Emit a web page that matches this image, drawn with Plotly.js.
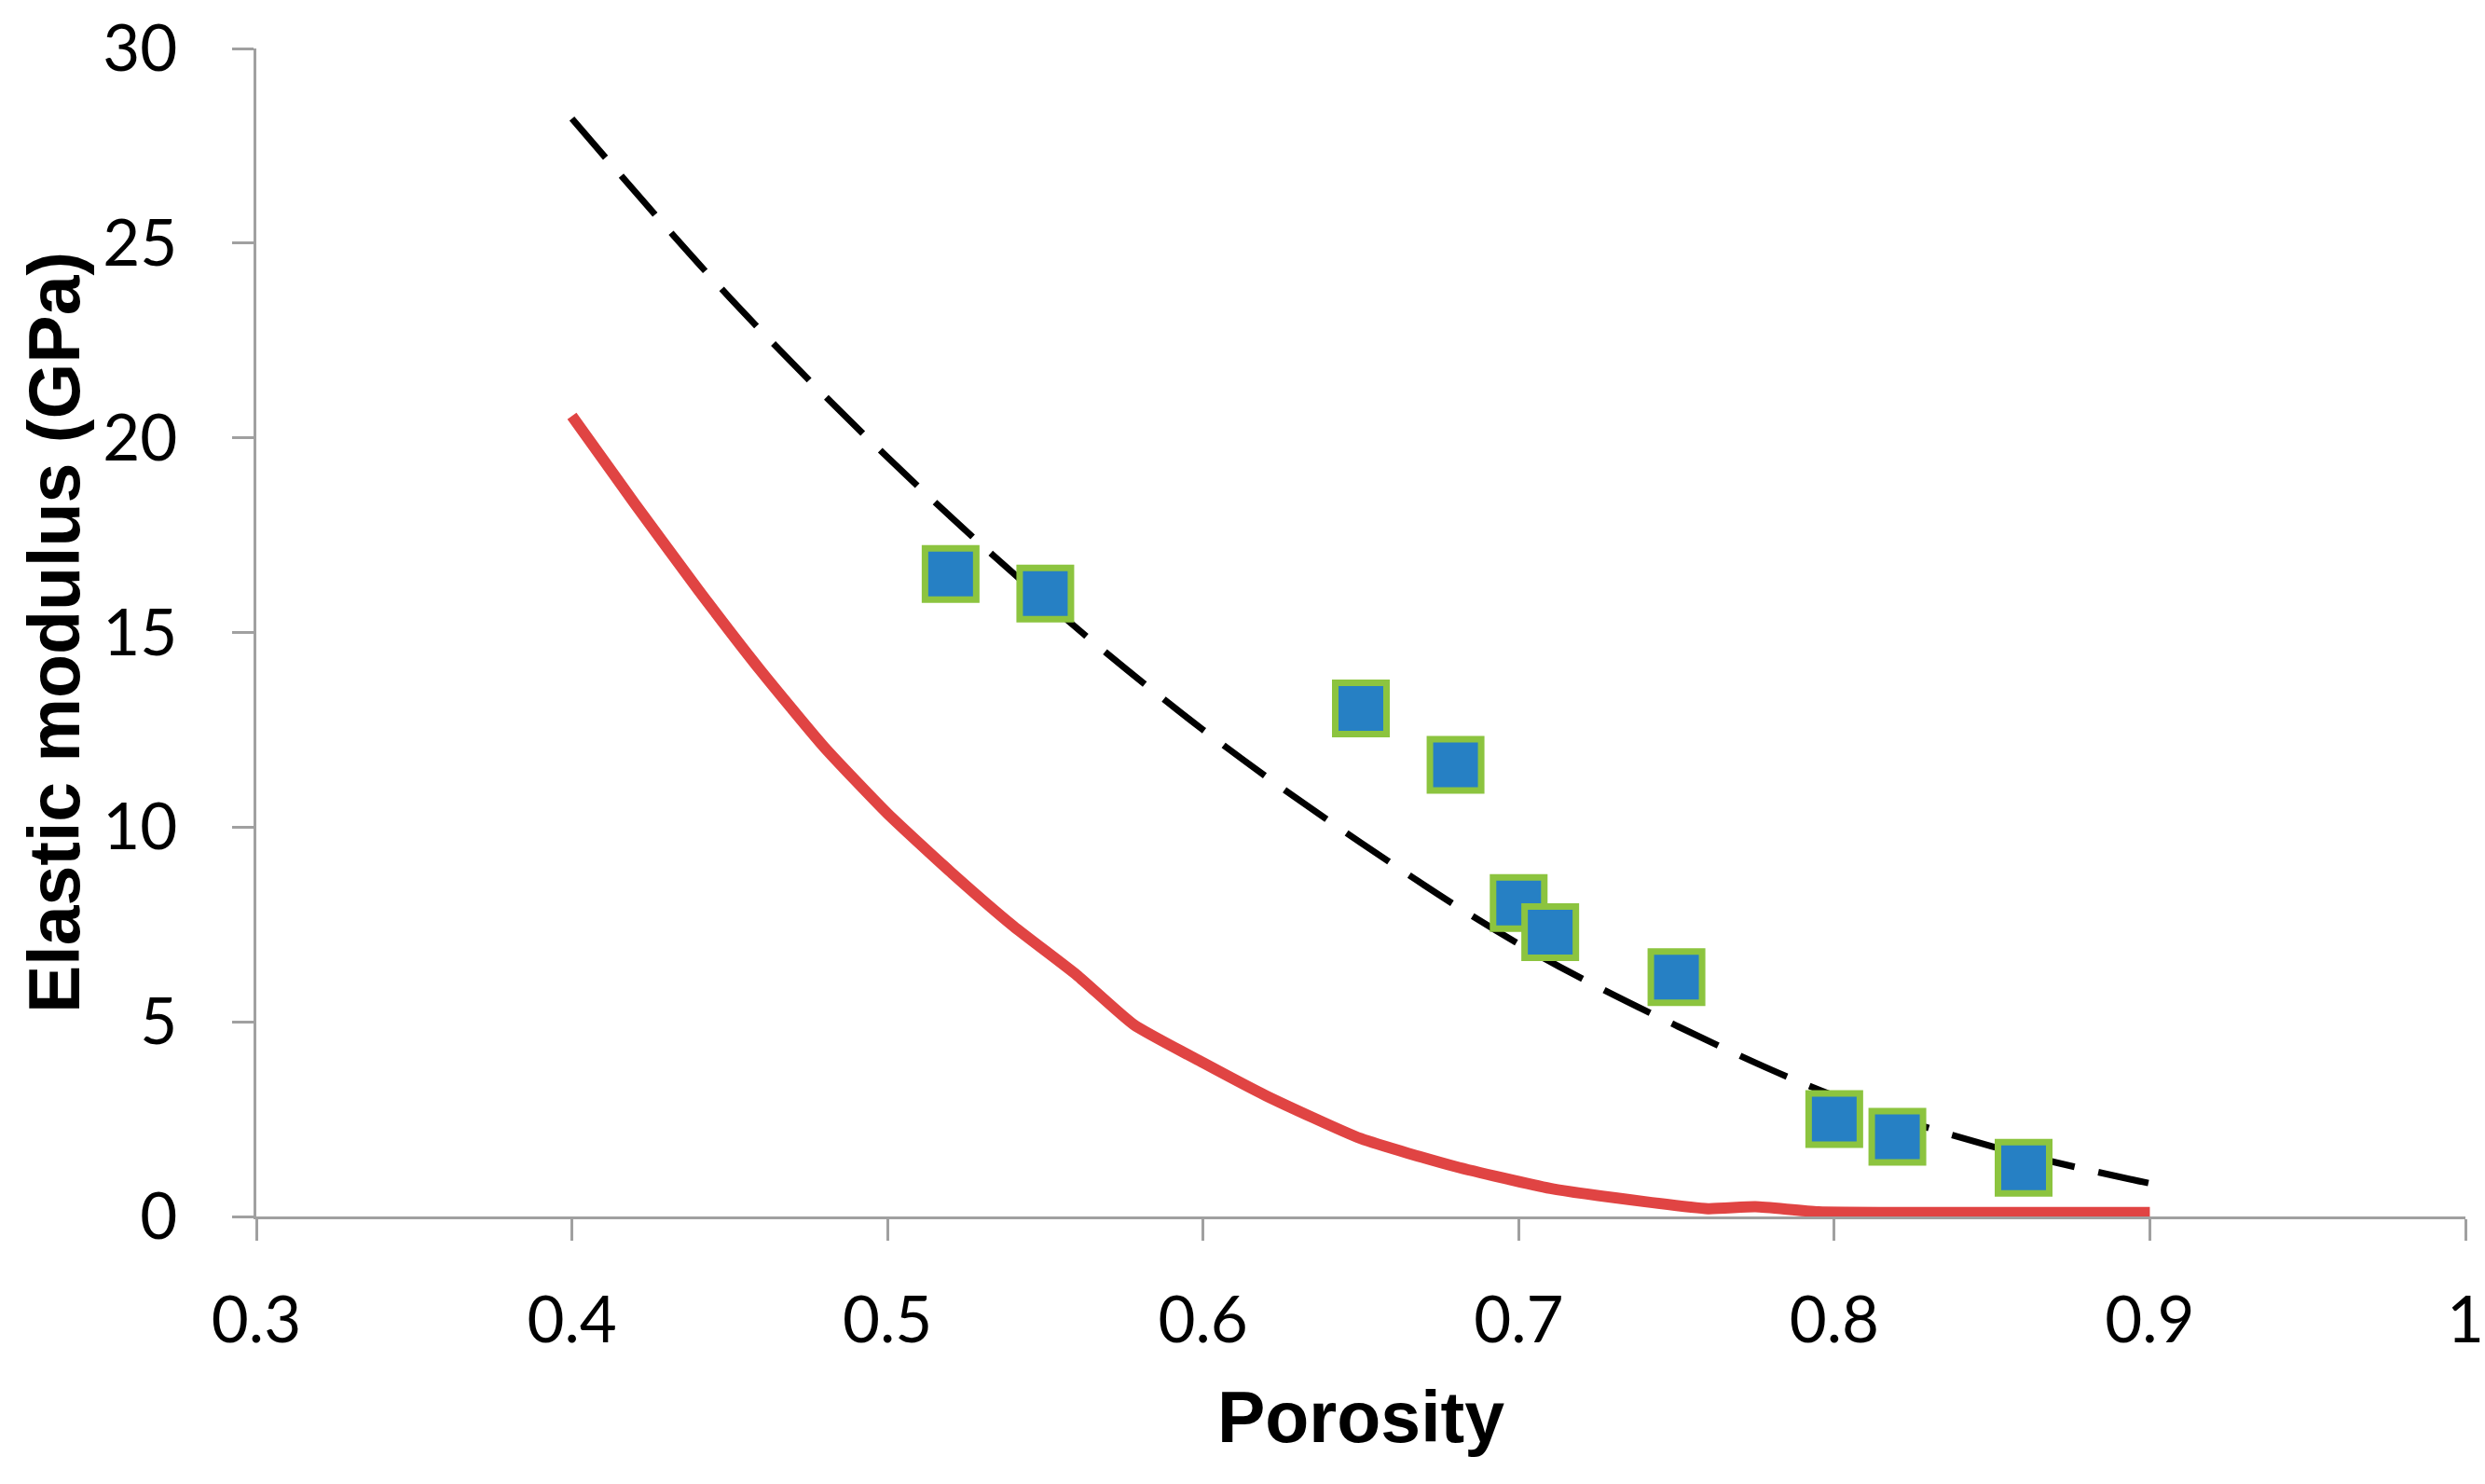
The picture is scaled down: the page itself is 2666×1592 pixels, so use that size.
<!DOCTYPE html>
<html>
<head>
<meta charset="utf-8">
<script src="https://cdn.plot.ly/plotly-3.0.1.min.js"></script>
<style>
  html, body { margin: 0; padding: 0; background: #fff; }
  #chart { width: 2666px; height: 1592px; }
</style>
</head>
<body>
<div id="chart"></div>
<script>
// measured samples (porosity vs elastic modulus, GPa)
const sampleX = [0.52, 0.55, 0.65, 0.68, 0.70, 0.71, 0.75, 0.80, 0.82, 0.86];
const sampleY = [16.5, 16.0, 13.05, 11.6, 8.05, 7.3, 6.15, 2.5, 2.05, 1.25];

// fitted model curve (dashed)
const fitX = [0.40, 0.45, 0.50, 0.55, 0.60, 0.65, 0.70, 0.75, 0.80, 0.85, 0.90];
const fitY = [28.2, 23.6, 19.5, 15.8, 12.5, 9.6, 7.0, 4.9, 3.1, 1.8, 0.85];

// lower model curve (red)
const lowX = [0.40, 0.42, 0.44, 0.46, 0.48, 0.50, 0.52, 0.54, 0.56, 0.578,
              0.60, 0.62, 0.65, 0.68, 0.71, 0.74, 0.76, 0.775, 0.795, 0.85, 0.90];
const lowY = [20.56, 18.3, 16.1, 14.0, 12.05, 10.35, 8.85, 7.45, 6.2, 4.93,
              3.95, 3.1, 2.0, 1.28, 0.72, 0.38, 0.2, 0.25, 0.12, 0.1, 0.1];

const xTicks = [0.3, 0.4, 0.5, 0.6, 0.7, 0.8, 0.9, 1];
const xTickText = ["0.3", "0.4", "0.5", "0.6", "0.7", "0.8", "0.9", "1"];
const yTicks = [0, 5, 10, 15, 20, 25, 30];

const tickFont = { family: "Lato, 'Open Sans', sans-serif", size: 69, color: "#000" };
const titleFont = { family: "'Liberation Sans', Arial, sans-serif", size: 77, color: "#000", weight: "bold" };

const traces = [
  {
    x: lowX, y: lowY, type: "scatter", mode: "lines",
    line: { color: "#E04443", width: 12, shape: "spline", smoothing: 0.5 },
    hoverinfo: "skip"
  },
  {
    x: fitX, y: fitY, type: "scatter", mode: "lines",
    line: { color: "#000000", width: 7, dash: "55px,26px", shape: "spline", smoothing: 1 },
    hoverinfo: "skip"
  },
  {
    x: sampleX, y: sampleY, type: "scatter", mode: "markers",
    marker: { symbol: "square", size: 55, color: "#2680C4", line: { color: "#8CC43F", width: 7 } }
  }
];

const axisCommon = {
  showgrid: false, zeroline: false,
  showline: true, linecolor: "#A0A0A0", linewidth: 3,
  ticks: "outside", ticklen: 23, tickwidth: 3, tickcolor: "#A0A0A0",
  tickfont: tickFont
};

const layout = {
  width: 2666, height: 1592,
  margin: { l: 275, r: 21, t: 52, b: 287 },
  paper_bgcolor: "#fff", plot_bgcolor: "#fff",
  showlegend: false,
  xaxis: Object.assign({}, axisCommon, {
    range: [0.3, 1.0], tickvals: xTicks, ticktext: xTickText,
    ticklabelstandoff: 26,
    title: { text: "Porosity", font: titleFont, standoff: 40 }
  }),
  yaxis: Object.assign({}, axisCommon, {
    range: [0, 30], tickvals: yTicks,
    ticklabelstandoff: 45,
    title: { text: "Elastic modulus (GPa)", font: titleFont, standoff: 0 }
  })
};

Plotly.newPlot("chart", traces, layout, { staticPlot: true });
</script>
</body>
</html>
